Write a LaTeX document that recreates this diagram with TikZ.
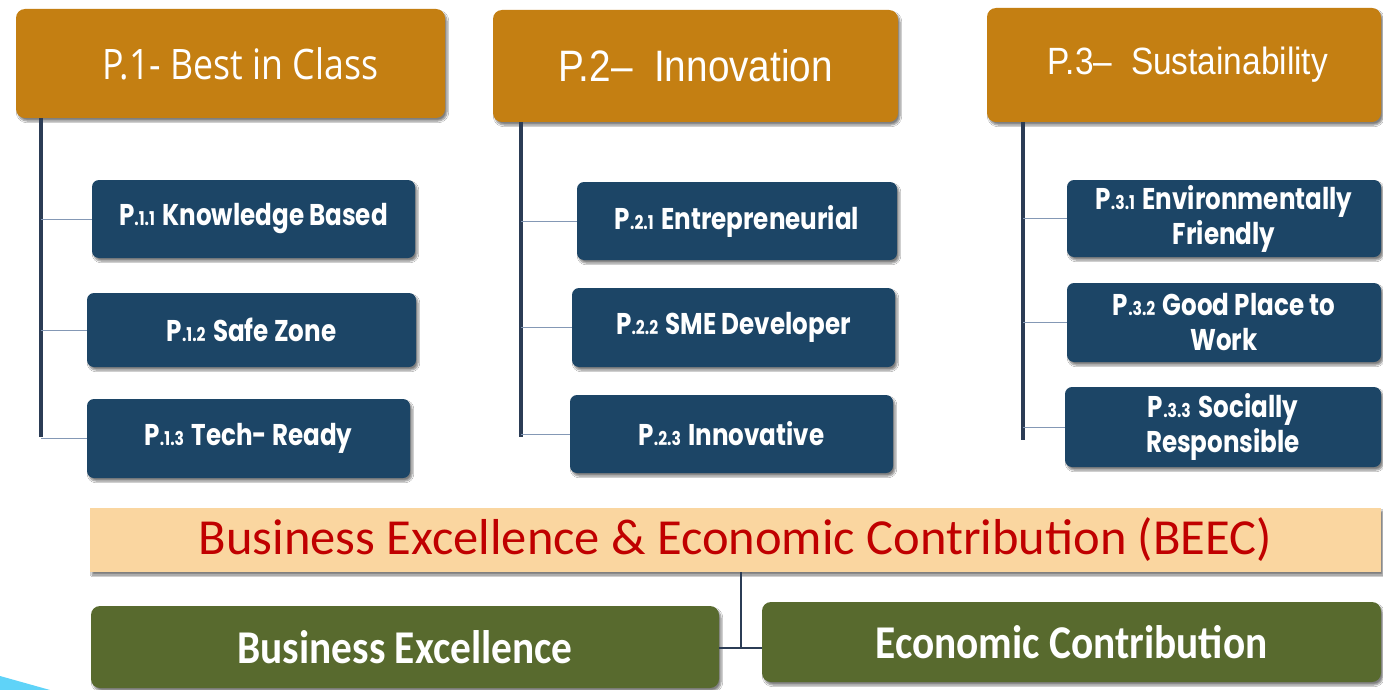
\documentclass[tikz,border=0pt]{standalone}
\usepackage{fontspec}
\usetikzlibrary{shadows.blur}
\newfontfamily\hdA[FakeStretch=0.85]{Open Sans}
\newfontfamily\hdB[FakeStretch=0.88]{Liberation Sans}
\newfontfamily\subf[FakeStretch=0.82]{Poppins}
\newfontfamily\calf{Carlito}
\newfontfamily\calb[FakeStretch=0.88]{Carlito}
\definecolor{hdorange}{HTML}{C47F12}
\definecolor{navybox}{HTML}{1C4566}
\definecolor{spinec}{HTML}{2B3C55}
\definecolor{tickc}{HTML}{8498B5}
\definecolor{beecfill}{HTML}{FAD6A0}
\definecolor{beecred}{HTML}{C00000}
\definecolor{olivebox}{HTML}{586A2E}
\definecolor{wedgec}{HTML}{5FD3F8}
\newcommand\pnum[1]{P{\fontsize{19}{19}\selectfont.#1}\hspace{0.25em}}
\tikzset{
  shad/.style={blur shadow={shadow xshift=2pt, shadow yshift=-3pt, shadow opacity=50, shadow blur steps=6}},
  headbox/.style={shad, fill=hdorange, rounded corners=9pt, text=white, inner sep=0pt},
  subbox/.style={shad, fill=navybox, rounded corners=7pt, text=white, inner sep=0pt, align=center,
    font=\subf\bfseries\fontsize{30}{35}\selectfont},
  greenbox/.style={shad, fill=olivebox, rounded corners=9pt, text=white, inner sep=0pt,
    font=\calb\bfseries\fontsize{47}{50}\selectfont},
  spineline/.style={draw=spinec, line width=3.5pt},
  tickline/.style={draw=tickc, line width=1pt},
  joinline/.style={draw=spinec, line width=1.2pt}
}
\begin{document}
\begin{tikzpicture}[x=1pt,y=-1pt]
\useasboundingbox (0,0) rectangle (1383,690);
\fill[white] (0,0) rectangle (1383,690);
\clip (0,0) rectangle (1383,690);
% headers
\node[headbox, minimum width=429pt, minimum height=109pt, font=\hdA\fontsize{42}{46}\selectfont] (p1) at (230.5,63.5) {\hspace{20pt}P.1- Best in Class};
\node[headbox, minimum width=405pt, minimum height=112pt, font=\hdB\fontsize{44}{48}\selectfont] (p2) at (695.5,66) {P.2–\ \ Innovation};
\node[headbox, minimum width=394pt, minimum height=114pt, font=\hdB\fontsize{38}{42}\selectfont] (p3) at (1184,65) {\hspace{8pt}P.3–\ \ Sustainability};
% column 1
\node[subbox, minimum width=323pt, minimum height=78pt] (p11) at (253.5,219) {\pnum{1.1}Knowledge Based};
\node[subbox, minimum width=329pt, minimum height=74pt] (p12) at (251.5,330) {\pnum{1.2}Safe Zone};
\node[subbox, minimum width=323pt, minimum height=79pt] (p13) at (248.5,438.5) {\pnum{1.3}Tech- Ready};
% column 2
\node[subbox, minimum width=320pt, minimum height=78pt] (p21) at (737,221) {\pnum{2.1}Entrepreneurial};
\node[subbox, minimum width=323pt, minimum height=79pt] (p22) at (733.5,327.5) {\pnum{2.2}SME Developer};
\node[subbox, minimum width=323pt, minimum height=78pt] (p23) at (731.5,434) {\pnum{2.3}Innovative};
% column 3
\node[subbox, minimum width=314pt, minimum height=77pt] (p31) at (1224,218.5) {\pnum{3.1}Environmentally\\Friendly};
\node[subbox, minimum width=314pt, minimum height=79pt] (p32) at (1224,322.5) {\pnum{3.2}Good Place to\\Work};
\node[subbox, minimum width=316pt, minimum height=80pt] (p33) at (1223,427) {\pnum{3.3}Socially\\Responsible};
% spines
\coordinate (s1) at (41,437);
\coordinate (s2) at (521,437);
\coordinate (s3) at (1023,440);
\draw[spineline] (p1.south -| s1) -- (s1);
\draw[spineline] (p2.south -| s2) -- (s2);
\draw[spineline] (p3.south -| s3) -- (s3);
\draw[tickline] (s1 |- p11.west) -- (p11.west);
\draw[tickline] (s1 |- p12.west) -- (p12.west);
\draw[tickline] (s1 |- p13.west) -- (p13.west);
\draw[tickline] (s2 |- p21.west) -- (p21.west);
\draw[tickline] (s2 |- p22.west) -- (p22.west);
\draw[tickline] (s2 |- p23.west) -- (p23.west);
\draw[tickline] (s3 |- p31.west) -- (p31.west);
\draw[tickline] (s3 |- p32.west) -- (p32.west);
\draw[tickline] (s3 |- p33.west) -- (p33.west);
% bottom
\node[shad, fill=beecfill, minimum width=1291pt, minimum height=64pt, inner sep=0pt, text=beecred,
  font=\calf\fontsize{50.5}{54}\selectfont] (beec) at (735.5,540) {Business Excellence \& Economic Contribution (BEEC)};
\node[greenbox, minimum width=628pt, minimum height=82pt] (be) at (405,647) {Business Excellence};
\node[greenbox, minimum width=619pt, minimum height=80pt] (ec) at (1071.5,642) {Economic Contribution};
\coordinate (j) at (741,648);
\draw[joinline] (beec.south -| j) -- (j);
\draw[joinline] (be.east |- j) -- (ec.west |- j);
\fill[wedgec] (0,676) -- (50,690) -- (0,690) -- cycle;
\end{tikzpicture}
\end{document}
